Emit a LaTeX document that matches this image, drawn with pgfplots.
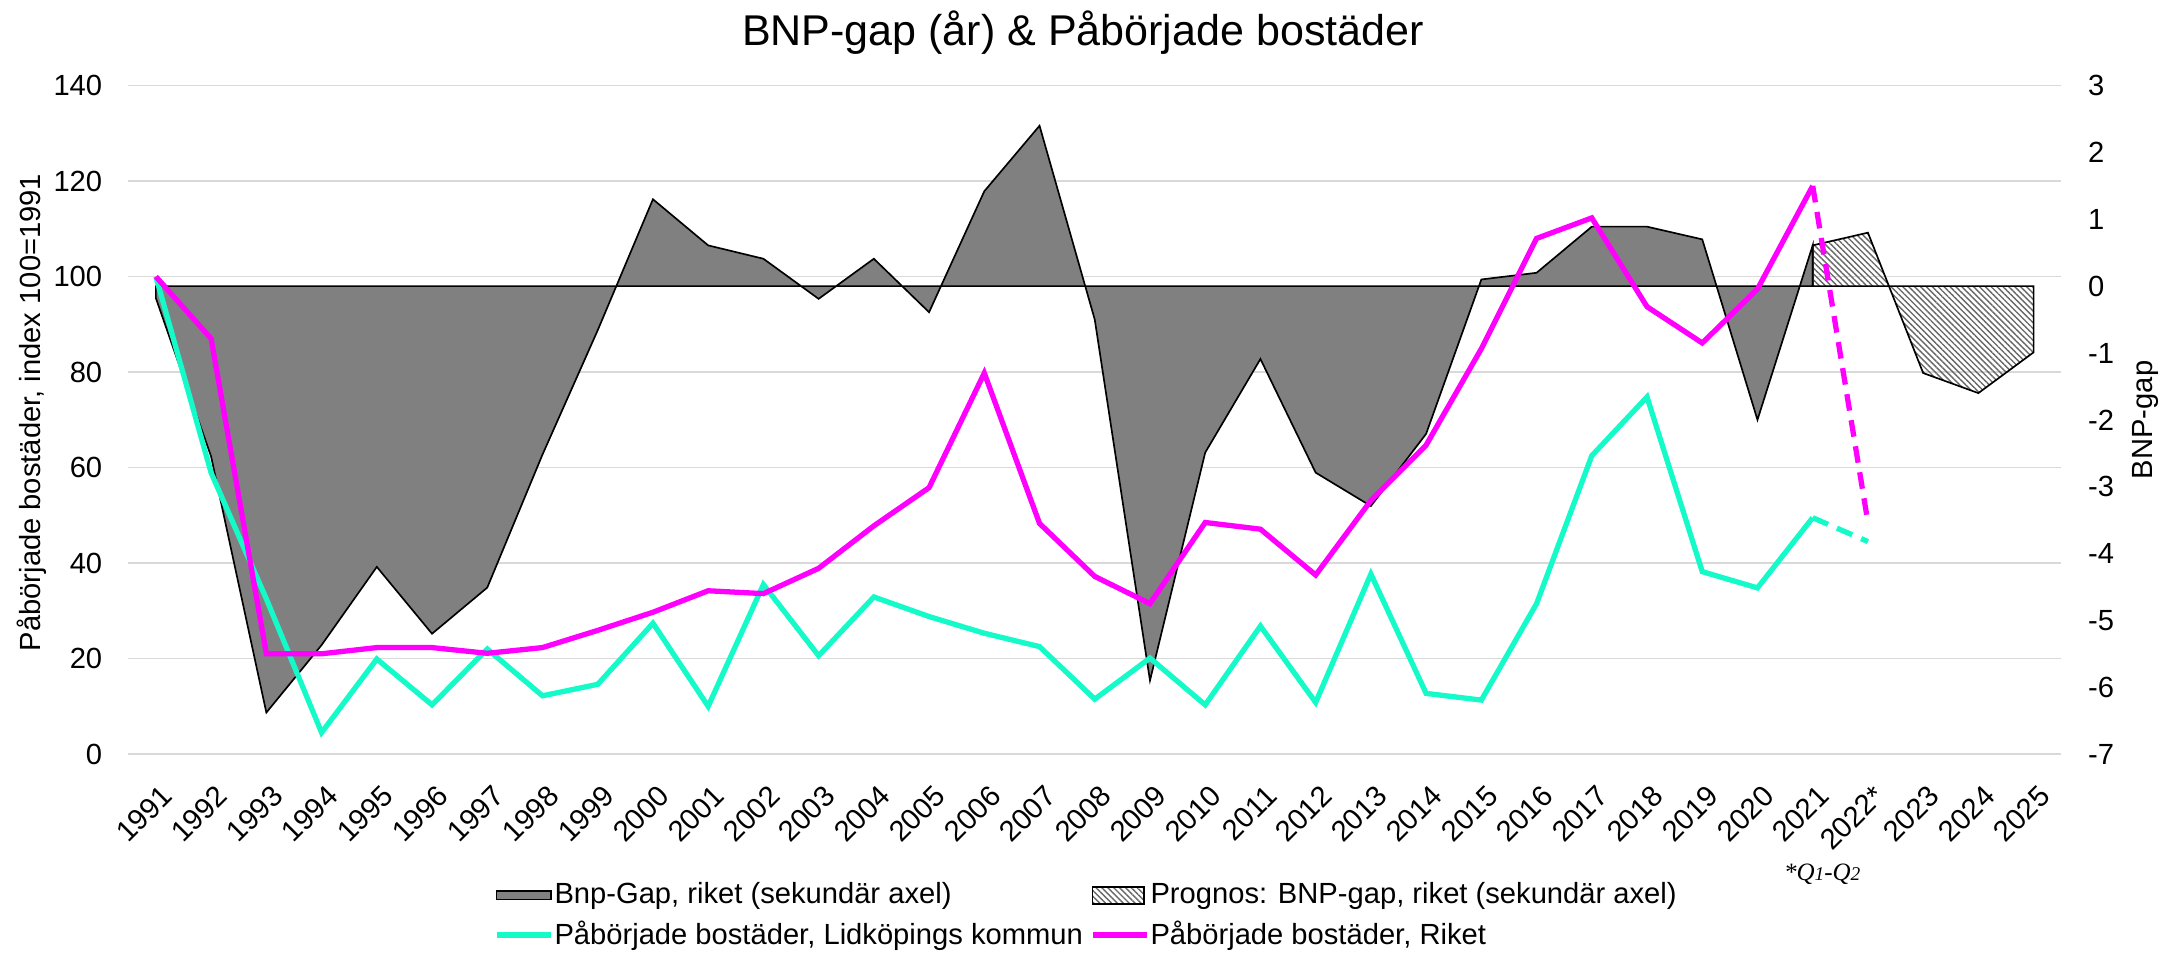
\documentclass[border=0pt]{standalone}
\usepackage{pgfplots}
\pgfplotsset{compat=1.18}
\usepackage{fontspec}
\setmainfont{Liberation Sans}
\newfontfamily\serifit{Liberation Serif}
\usetikzlibrary{patterns.meta}
\definecolor{cyanL}{RGB}{20,250,200}
\definecolor{magR}{RGB}{255,0,255}
\definecolor{gridG}{RGB}{217,217,217}
\definecolor{gapG}{RGB}{128,128,128}
\pgfplotsset{
  base/.style={width=696.1pt, height=240.7pt, scale only axis, at={(0,0)}, anchor=south west,
    xmin=1990.5, xmax=2025.5, axis line style={draw=none}, major tick length=0pt,
    tick style={draw=none}, /pgf/number format/assume math mode=true,
    tick label style={font=\fontsize{10.5}{12.6}\selectfont}},
  myarea/.style={legend image code/.code={\draw[##1] (0pt,-1.5pt) rectangle (19.7pt,1.5pt);}},
  myhatch/.style={legend image code/.code={\draw[##1] (0pt,-3pt) rectangle (18.6pt,3pt);}},
  myline/.style={legend image code/.code={\draw[##1] (0pt,0pt) -- (19.7pt,0pt);}},
}
\begin{document}
\begin{tikzpicture}
\path[use as bounding box] (-46.2pt,-73.45pt) rectangle (737.8pt,271.55pt);
% Axis A: left ticks, grid, x labels
\begin{axis}[base, ymin=0, ymax=140, ytick={0,20,...,140}, ymajorgrids, clip=false,
  grid style={gridG, line width=0.6pt},
  yticklabel style={anchor=east, inner sep=0pt, xshift=-9.2pt},
  xtick={1991,...,2025},
  xticklabels={1991,1992,1993,1994,1995,1996,1997,1998,1999,2000,2001,2002,2003,2004,2005,2006,2007,2008,2009,2010,2011,2012,2013,2014,2015,2016,2017,2018,2019,2020,2021,2022*,2023,2024,2025},
  xticklabel style={xshift=1.4pt, yshift=-10.4pt, rotate=45, anchor=north east, inner sep=0pt},
]
\node[anchor=base, font=\fontsize{15.5}{18}\selectfont] at (rel axis cs:0.4939,1) [yshift=14.4pt] {BNP-gap (år) \& Påbörjade bostäder};
\node[xshift=-34.8pt, rotate=90, anchor=center, font=\fontsize{10.5}{12.6}\selectfont] at (rel axis cs:0,0.511) {Påbörjade bostäder, index 100=1991};
\node[xshift=30.2pt, rotate=90, anchor=center, font=\fontsize{10.5}{12.6}\selectfont] at (rel axis cs:1,0.5) {BNP-gap};
\node[yshift=-45.5pt, anchor=base east, font=\serifit\itshape\fontsize{9}{10}\selectfont] at (rel axis cs:0.9012,0) {*Q{\fontsize{7}{8}\selectfont 1}-Q{\fontsize{7}{8}\selectfont 2}};
\end{axis}
% Axis B: right axis, areas
\begin{axis}[base, ymin=-7, ymax=3, ytick={-7,-6,...,3}, xtick=\empty,
  yticklabel pos=right,
  yticklabel style={anchor=west, inner sep=0pt, xshift=9.5pt},
]
\addplot[fill=gapG, draw=black, line width=0.6pt] coordinates {
(1991,0) (1991,-0.18) (1992,-2.55) (1993,-6.38) (1994,-5.37) (1995,-4.20) (1996,-5.20)
(1997,-4.51) (1998,-2.52) (1999,-0.66) (2000,1.30) (2001,0.61) (2002,0.41) (2003,-0.19)
(2004,0.41) (2005,-0.39) (2006,1.42) (2007,2.40) (2008,-0.50) (2009,-5.90) (2010,-2.49)
(2011,-1.09) (2012,-2.79) (2013,-3.29) (2014,-2.21) (2015,0.10) (2016,0.20) (2017,0.89)
(2018,0.89) (2019,0.70) (2020,-2.00) (2021,0.61) (2021,0)
} -- cycle;
\addplot[pattern={Lines[angle=-45, distance=1.5pt, line width=0.5pt]}, pattern color=black!60,
  draw=black, line width=0.6pt] coordinates {
(2021,0) (2021,0.61) (2022,0.80) (2023,-1.30) (2024,-1.60) (2025,-0.99) (2025,0)
} -- cycle;
\end{axis}
% Axis C: lines + legend
\begin{axis}[base, ymin=0, ymax=140, hide axis,
  legend columns=2, legend cell align=left,
  legend style={at={(0.1892,-0.1843)}, anchor=north west, draw=none, fill=none,
    inner sep=0pt, outer sep=0pt, font=\fontsize{10.5}{12.6}\selectfont, row sep=0.7pt,
    /tikz/column 1/.style={column sep=-1.8pt},
    /tikz/column 2/.style={column sep=0.55pt},
    /tikz/column 3/.style={column sep=-1.8pt}},
]
\addlegendimage{myarea, fill=gapG, draw=black, line width=0.6pt}
\addlegendentry{Bnp-Gap, riket (sekundär axel)}
\addlegendimage{myhatch, pattern={Lines[angle=-45, distance=1.5pt, line width=0.5pt]}, pattern color=black!60, draw=black, line width=0.6pt}
\addlegendentry{Prognos: BNP-gap, riket (sekundär axel)}
\addplot[cyanL, line width=1.9pt, myline] coordinates {
(1991,100) (1992,58.9) (1993,32.5) (1994,4.5) (1995,19.9) (1996,10.3) (1997,22.0)
(1998,12.2) (1999,14.6) (2000,27.4) (2001,10.0) (2002,35.5) (2003,20.6) (2004,32.9)
(2005,28.8) (2006,25.3) (2007,22.5) (2008,11.5) (2009,20.1) (2010,10.3) (2011,26.8)
(2012,10.8) (2013,37.7) (2014,12.7) (2015,11.3) (2016,31.5) (2017,62.5) (2018,74.8)
(2019,38.2) (2020,34.8) (2021,49.5)
};
\addlegendentry{Påbörjade bostäder, Lidköpings kommun}
\addplot[magR, line width=1.9pt, myline] coordinates {
(1991,100) (1992,87.0) (1993,21.0) (1994,21.0) (1995,22.3) (1996,22.3) (1997,21.1)
(1998,22.3) (1999,25.9) (2000,29.7) (2001,34.2) (2002,33.6) (2003,38.9) (2004,47.8)
(2005,55.8) (2006,79.8) (2007,48.3) (2008,37.2) (2009,31.5) (2010,48.5) (2011,47.1)
(2012,37.5) (2013,53.1) (2014,64.7) (2015,84.9) (2016,108.0) (2017,112.3) (2018,93.7)
(2019,86.1) (2020,97.4) (2021,119.0)
};
\addlegendentry{Påbörjade bostäder, Riket}
\addplot[cyanL, line width=1.9pt, dash pattern=on 6pt off 3.5pt, forget plot] coordinates {(2021,49.5) (2022,44.5)};
\addplot[magR, line width=1.9pt, dash pattern=on 6pt off 3.5pt, forget plot] coordinates {(2021,119.0) (2022,48.5)};
\end{axis}
\end{tikzpicture}
\end{document}
